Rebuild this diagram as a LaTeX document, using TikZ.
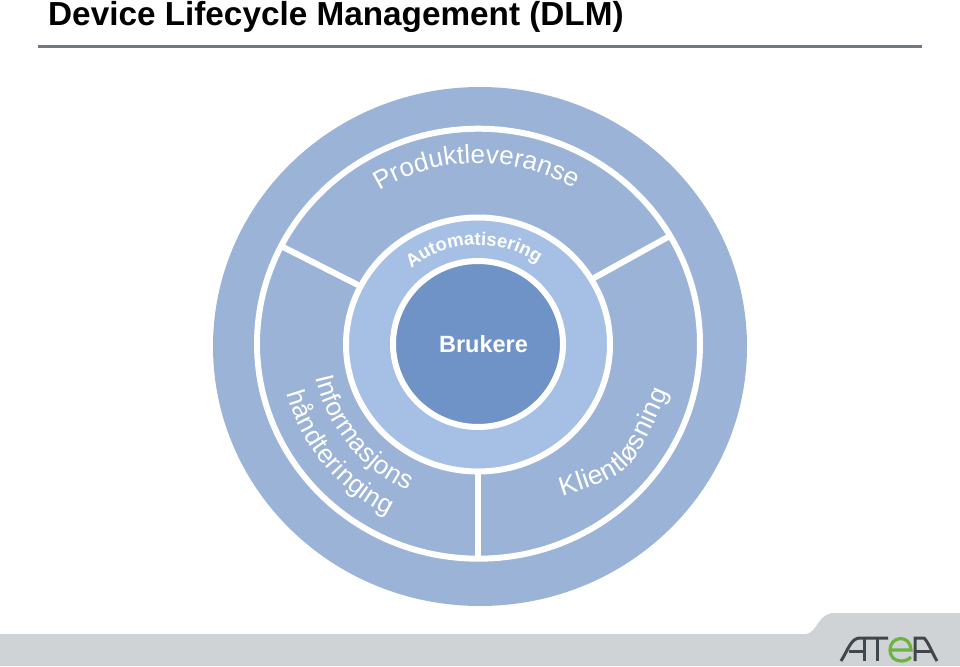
\documentclass[tikz,border=0pt]{standalone}
\usepackage{fontspec}
\setmainfont{Liberation Sans}
\usetikzlibrary{decorations.text}
\definecolor{outerc}{HTML}{9BB3D6}
\definecolor{midc}{HTML}{A5BFE5}
\definecolor{innerc}{HTML}{6F93C6}
\definecolor{footc}{HTML}{CFD3D6}
\definecolor{rulec}{HTML}{6F7880}
\definecolor{logod}{HTML}{3F474D}
\definecolor{logog}{HTML}{6DB33F}
\tikzset{
  ringline/.style={draw=white,line width=6pt},
  divline/.style={draw=white,line width=6pt},
  logostroke/.style={draw=logod,line width=3pt},
  fittext/.style 2 args={decorate,decoration={text along path,text align=fit to path,
     text={|\fontsize{#1}{#1}\selectfont\color{white}|#2}}},
  arcbold/.style 2 args={decorate,decoration={text along path,text align=center,
     text={|\fontsize{#1}{#1}\selectfont\bfseries\color{white}|#2}}},
}
\begin{document}
\begin{tikzpicture}[x=1pt,y=-1pt]
\useasboundingbox (0,0) rectangle (960,666);
% footer
\fill[footc] (0,634) -- (806,634) .. controls (818,632) and (818,613) .. (834,613) -- (960,613) -- (960,666) -- (0,666) -- cycle;
% title
\node[anchor=base west,inner sep=0pt,font=\fontsize{33.3}{33.3}\selectfont\bfseries] (title) at (48,26) {Device Lifecycle Management (DLM)};
\coordinate (ruleL) at (38,46.5);
\coordinate (ruleR) at (922,46.5);
\draw[rulec,line width=3pt] (ruleL) -- (ruleR);
% disc
\fill[outerc] (480,346.5) ellipse [x radius=267,y radius=259.5];
\draw[ringline] (478.5,343.7) ellipse [x radius=221.5,y radius=215];
\coordinate (d1a) at (283,247); \coordinate (d1b) at (358,285);
\coordinate (d2a) at (668,237); \coordinate (d2b) at (594,278);
\coordinate (d3a) at (478,474); \coordinate (d3b) at (478,558);
\draw[divline] (d1a) -- (d1b);
\draw[divline] (d2a) -- (d2b);
\draw[divline] (d3a) -- (d3b);
\fill[midc] (478,344.5) ellipse [x radius=132,y radius=127];
\draw[ringline] (478,344.5) ellipse [x radius=132,y radius=127];
\fill[innerc] (478,344) ellipse [x radius=85,y radius=83];
\draw[ringline] (478,344) ellipse [x radius=85,y radius=83];
\node[anchor=base,font=\fontsize{23.5}{23.5}\selectfont\bfseries,text=white,inner sep=0pt] (brukere) at (483.5,352) {Brukere};
% curved labels
\path[fittext={26}{Produktleveranse}] ({478+186*cos(122)},{344-181*sin(122)}) arc [start angle=-122,end angle=-59,x radius=186,y radius=181];
\path[arcbold={18.5}{Automatisering}] ({478+102*cos(142)},{344-99*sin(142)}) arc [start angle=-142,end angle=-43,x radius=102,y radius=99];
\path[fittext={26}{Informasjons}] ({478+166*cos(192)},{344-161.5*sin(192)}) arc [start angle=-192,end angle=-245,x radius=166,y radius=161.5];
\path[fittext={26}{håndteringing}] ({478+198*cos(195)},{344-192*sin(195)}) arc [start angle=-195,end angle=-243,x radius=198,y radius=192];
\coordinate (kA) at (562,496);
\coordinate (kB) at (668,392);
\coordinate (kC) at (632,474);
\path[fittext={26.5}{Klientløsning}] (kA) .. controls (kC) .. (kB);
% logo
\draw[logostroke] (841,661) .. controls (848,650) and (851,638) .. (860,638) -- (888,638);
\draw[logostroke] (864,638) -- (864,661);
\draw[logostroke] (849,651) -- (864,651);
\draw[logostroke] (877,638) -- (877,661);
\draw[logog,line width=3.2pt] (890,650) -- (911,650) .. controls (911,643) and (906,638.5) .. (901,638.5) .. controls (894,638.5) and (890,644) .. (890,650) .. controls (890,656) and (894,661) .. (901,661) .. controls (905,661) and (908,660) .. (911,657);
\draw[logostroke] (915,661) -- (915,638) -- (924,638) .. controls (929,643) and (932,653) .. (937,661);
\draw[logostroke] (915,651) -- (932,651);
\end{tikzpicture}
\end{document}
